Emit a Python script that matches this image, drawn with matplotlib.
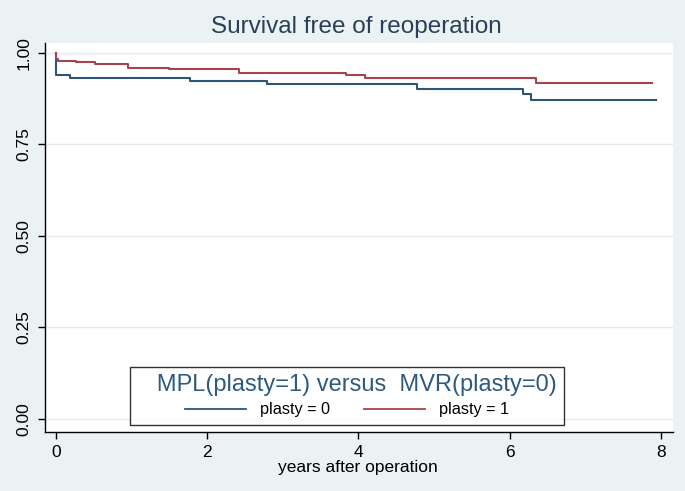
import matplotlib.pyplot as plt
from matplotlib.lines import Line2D

# Kaplan-Meier step curves
t_plasty0 = [0, 0, 0.18, 1.77, 2.79, 4.77, 6.18, 6.28, 7.93]
s_plasty0 = [1.0, 0.940, 0.931, 0.922, 0.915, 0.902, 0.888, 0.872, 0.872]

t_plasty1 = [0, 0, 0.03, 0.27, 0.52, 0.95, 1.49, 2.42, 3.84, 4.09, 6.35, 7.88]
s_plasty1 = [1.0, 0.983, 0.979, 0.975, 0.970, 0.958, 0.955, 0.946, 0.940, 0.932, 0.919, 0.919]

x_ticks = [0, 2, 4, 6, 8]
y_ticks = [0.0, 0.25, 0.5, 0.75, 1.0]
y_ticklabels = ["0.00", "0.25", "0.50", "0.75", "1.00"]

BG = "#eaf2f3"
NAVY = "#2c5677"
MAROON = "#a5454b"

plt.rcParams["font.family"] = ["Liberation Sans", "DejaVu Sans"]

fig = plt.figure(figsize=(6.85, 4.91), dpi=100, facecolor=BG)
ax = fig.add_axes([45 / 685, 1 - 432 / 491, 628 / 685, 389 / 491])
ax.set_facecolor("white")

ax.step(t_plasty0, s_plasty0, where="post", color=NAVY, lw=1.5)
ax.step(t_plasty1, s_plasty1, where="post", color=MAROON, lw=1.5)

ax.set_xlim(-0.146, 8.16)
ax.set_ylim(-0.0355, 1.027)
ax.set_xticks(x_ticks)
ax.set_yticks(y_ticks)
ax.set_yticklabels(y_ticklabels, rotation=90, va="center")
ax.tick_params(labelsize=12.5, length=5, width=1, colors="black", pad=4.5)
for y in y_ticks:
    ax.axhline(y, color="#e3ecee", lw=1, zorder=0)

for side in ["top", "right"]:
    ax.spines[side].set_visible(False)
for side in ["left", "bottom"]:
    ax.spines[side].set_color("black")
    ax.spines[side].set_linewidth(1)

ax.set_xlabel("years after operation", fontsize=12.5, va="baseline")
ax.xaxis.set_label_coords((357.5 - 45) / 628, (432 - 471.7) / 389)

fig.text(356 / 685, 1 - 33 / 491, "Survival free of reoperation",
         ha="center", va="baseline", fontsize=17.5, color="#2a3f58")

handles = [Line2D([], [], color=NAVY, lw=1.3), Line2D([], [], color=MAROON, lw=1.3)]
leg = ax.legend(handles, ["plasty = 0", "plasty = 1"], ncol=2,
                title="   MPL(plasty=1) versus  MVR(plasty=0)",
                loc="lower center", bbox_to_anchor=((347 - 45) / 628, (432 - 424.5) / 389),
                borderaxespad=0, fontsize=11.7, handlelength=3.75, handletextpad=0.85,
                columnspacing=2.15, labelspacing=0.37, borderpad=0.45,
                frameon=True, fancybox=False, shadow=False,
                title_fontproperties={"size": 17})
leg.get_title().set_color("#2e5a80")
leg.get_frame().set_edgecolor("black")
leg.get_frame().set_linewidth(1)

fig.savefig("out.png", dpi=100, facecolor=BG)
